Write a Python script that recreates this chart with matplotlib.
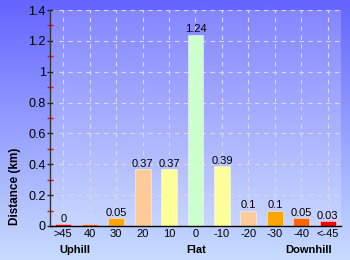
import numpy as np
import matplotlib
matplotlib.use("Agg")
import matplotlib.pyplot as plt
from matplotlib.colors import LinearSegmentedColormap

plt.rcParams['font.family'] = ['Liberation Sans', 'DejaVu Sans']

categories = [">45", "40", "30", "20", "10", "0", "-10", "-20", "-30", "-40", "<-45"]
values = [0.012, 0.012, 0.05, 0.37, 0.37, 1.24, 0.39, 0.1, 0.1, 0.05, 0.03]
value_labels = ["0", "", "0.05", "0.37", "0.37", "1.24", "0.39", "0.1", "0.1", "0.05", "0.03"]
colors = ["#ff0000", "#ff6600", "#ffa500", "#ffcc99", "#ffff99", "#ccffcc",
          "#ffff99", "#ffcc99", "#ffa500", "#ff6600", "#ff0000"]
yticks = [0, 0.2, 0.4, 0.6, 0.8, 1.0, 1.2, 1.4]
ytick_labels = ["0", "0.2", "0.4", "0.6", "0.8", "1", "1.2", "1.4"]
group_labels = ["Uphill", "Flat", "Downhill"]

W, H = 350, 260
fig = plt.figure(figsize=(W / 100, H / 100), dpi=100)

# gradient background
bg = fig.add_axes([0, 0, 1, 1], zorder=-10)
cmap = LinearSegmentedColormap.from_list("bg", ["#6464ff", "#c8dcff"])
grad = np.linspace(0, 1, 256).reshape(-1, 1)
bg.imshow(grad, aspect="auto", cmap=cmap, extent=[0, 1, 0, 1], origin="upper")
bg.set_axis_off()

ax = fig.add_axes([50 / W, 34 / H, 291 / W, 216 / H])
ax.set_facecolor((1, 1, 1, 0.2))
x = np.arange(len(categories))
ax.bar(x, values, width=0.6, color=colors, edgecolor=(1, 1, 1, 0.5), linewidth=0.6, zorder=3)
for xi, v, lab in zip(x, values, value_labels):
    if lab:
        ax.text(xi, v + 0.002, lab, ha="center", va="bottom", fontsize=8, color="#000000", zorder=4)

ax.set_xlim(-0.5, len(categories) - 0.5)
ax.set_ylim(0, 1.4)
ax.set_xticks(x)
ax.set_xticklabels(categories, fontsize=8)
ax.set_yticks(yticks)
ax.set_yticklabels(ytick_labels, fontsize=9)
ax.set_yticks([0.1, 0.3, 0.5, 0.7, 0.9, 1.1, 1.3], minor=True)
ax.tick_params(axis="y", which="major", length=4, width=1, color="#222222", direction="inout", pad=1)
ax.tick_params(axis="y", which="minor", length=4, width=1, color="#ff0000", direction="inout")
ax.tick_params(axis="x", length=0, pad=2)
ax.grid(True, color=(0.85, 0.85, 0.9, 0.35), linestyle=(0, (4, 4)), linewidth=0.8, zorder=0)
for s in ["top", "right"]:
    ax.spines[s].set_visible(False)
ax.spines["left"].set_color("#333333")
ax.spines["bottom"].set_color("#000000")
ax.spines["left"].set_linewidth(1)
ax.spines["bottom"].set_linewidth(1)
ax.spines["bottom"].set_zorder(5)

fig.text(15 / W, 1 - 186 / H, "Distance (km)", rotation=90, ha="center", va="center",
         fontsize=8.5, fontweight="bold")
fig.text(75 / W, 1 - 250 / H, group_labels[0], ha="center", va="center", fontsize=8, fontweight="bold")
fig.text(196 / W, 1 - 250 / H, group_labels[1], ha="center", va="center", fontsize=8, fontweight="bold")
fig.text(309 / W, 1 - 250 / H, group_labels[2], ha="center", va="center", fontsize=8, fontweight="bold")

fig.savefig("out.png", dpi=100)
